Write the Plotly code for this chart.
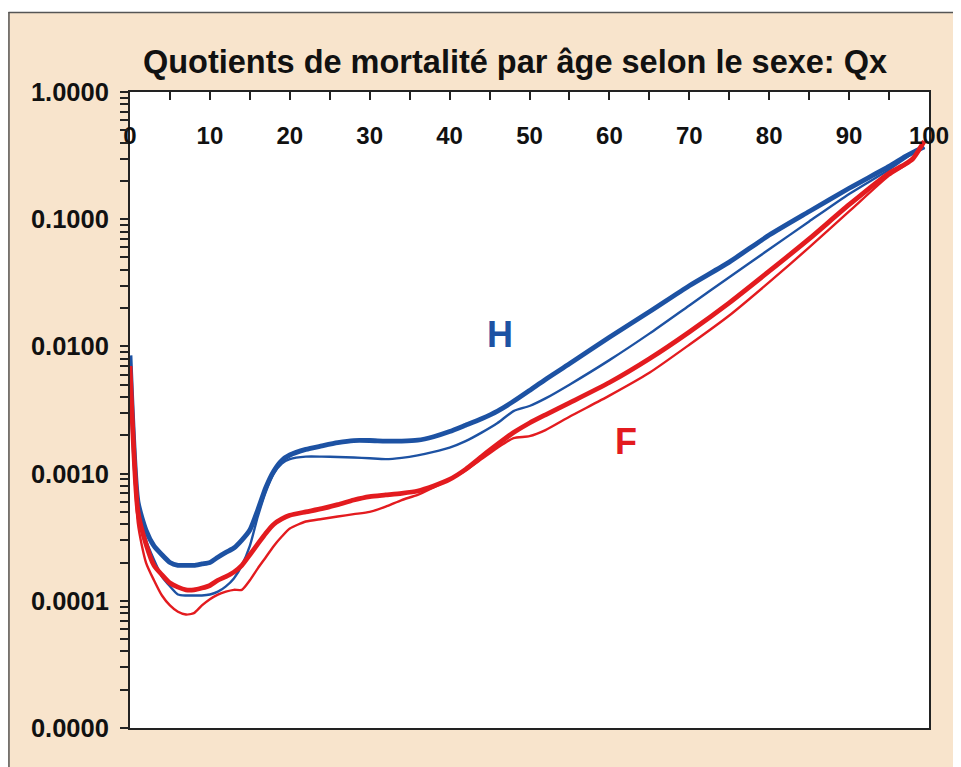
import math
import plotly.graph_objects as go

ages = [0, 1, 2, 3, 4, 5, 6, 7, 8, 9, 10, 11, 12, 13, 14, 15, 16, 17, 18, 19, 20,
        22, 24, 26, 28, 30, 32, 34, 36, 38, 40, 42, 44, 46, 48, 50, 52, 55,
        60, 65, 70, 75, 80, 85, 90, 95, 97, 98, 99.4]

h_thick = [0.0085, 0.00060, 0.00036, 0.00027, 0.00023, 0.00020, 0.00019, 0.00019, 0.00019, 0.000195,
           0.00020, 0.00022, 0.00024, 0.00026, 0.00030, 0.00036, 0.00052, 0.00078, 0.00105, 0.00127,
           0.00140, 0.00155, 0.00165, 0.00175, 0.00182, 0.00182, 0.00180, 0.00180, 0.00183, 0.00195,
           0.00214, 0.0024, 0.0027, 0.0031, 0.0037, 0.0045, 0.0055, 0.0073,
           0.0118, 0.0187, 0.030, 0.046, 0.075, 0.115, 0.175, 0.26, 0.31, 0.335, 0.37]

h_thin = [0.0080, 0.00055, 0.00030, 0.00021, 0.000155, 0.00013, 0.000112, 0.000110, 0.000110, 0.000110,
          0.000112, 0.000118, 0.00013, 0.00015, 0.00019, 0.00027, 0.00046, 0.00072, 0.00100, 0.00120,
          0.00130, 0.00136, 0.00136, 0.00135, 0.00134, 0.00132, 0.00130, 0.00133, 0.00139, 0.00148,
          0.0016, 0.0018, 0.0021, 0.0025, 0.0031, 0.0034, 0.0039, 0.0050,
          0.0078, 0.0126, 0.021, 0.035, 0.058, 0.096, 0.158, 0.245, 0.30, 0.33, 0.37]

f_thick = [0.0070, 0.00050, 0.00028, 0.00019, 0.00016, 0.000138, 0.000128, 0.000122, 0.000122, 0.000126,
           0.000132, 0.000145, 0.000155, 0.000168, 0.00019, 0.00023, 0.00028, 0.00034, 0.00040, 0.00044,
           0.00047, 0.00050, 0.00053, 0.00057, 0.00062, 0.00066, 0.00068, 0.00070, 0.00073, 0.00080,
           0.00090, 0.00108, 0.00136, 0.0017, 0.0021, 0.0025, 0.0029, 0.0036,
           0.0052, 0.0080, 0.0130, 0.022, 0.039, 0.070, 0.130, 0.23, 0.27, 0.30, 0.41]

f_thin = [0.0065, 0.00040, 0.00020, 0.000145, 0.000110, 0.000092, 0.000082, 0.000078, 0.000080, 0.000092,
          0.000103, 0.000112, 0.000118, 0.000122, 0.000122, 0.000145, 0.00018, 0.00022, 0.00027, 0.00032,
          0.00037, 0.00042, 0.00044, 0.00046, 0.00048, 0.00050, 0.00055, 0.00062, 0.00068, 0.00078,
          0.00090, 0.00106, 0.00130, 0.00160, 0.00190, 0.00197, 0.0022, 0.0028,
          0.0041, 0.0062, 0.0103, 0.0175, 0.032, 0.060, 0.115, 0.22, 0.265, 0.30, 0.41]

y_major = [0.00001, 0.0001, 0.001, 0.01, 0.1, 1.0]
y_major_text = ["0.0000", "0.0001", "0.0010", "0.0100", "0.1000", "1.0000"]
x_ticks = [0, 10, 20, 30, 40, 50, 60, 70, 80, 90, 100]

label_h = ("H", 46.3, 0.0124)
label_f = ("F", 62.1, 0.00179)

BLUE = "#1d52a3"
RED = "#e31b1f"
BEIGE = "#f8e4cc"

# y tick values incl. minor (2..9 per decade)
y_tickvals, y_ticktext = [], []
for i, d in enumerate(y_major):
    y_tickvals.append(d)
    y_ticktext.append(y_major_text[i])
    if d < 1.0:
        for k in range(2, 10):
            y_tickvals.append(d * k)
            y_ticktext.append("")

fig = go.Figure()
series = [(h_thick, BLUE, 4.8), (h_thin, BLUE, 2.4), (f_thick, RED, 4.8), (f_thin, RED, 2.4)]
for vals, col, w in series:
    fig.add_trace(go.Scatter(x=ages, y=vals, mode="lines",
                             line=dict(color=col, width=w, shape="spline", smoothing=0.6),
                             showlegend=False, hoverinfo="skip"))

FONT = "Liberation Sans, Arial, sans-serif"

for (txt, ax, ay), col in [(label_h, BLUE), (label_f, RED)]:
    fig.add_annotation(x=ax, y=math.log10(ay), xref="x", yref="y", text=txt, showarrow=False,
                       font=dict(family=FONT, size=36, color=col, weight="bold"))

# page is offset by the 8px body margin
OFF = 8
W, H = 961 - OFF, 767 - OFF
L, T = 130 - OFF, 92 - OFF
PW, PH = 802, 636
R = W - L - PW
B = H - T - PH

def px(xp):  # figure pixel -> paper
    return (xp - L) / PW

def py(yp):
    return (H - B - yp) / PH

# white strip at top and frame line (scan border)
fig.add_shape(type="rect", xref="paper", yref="paper", x0=px(-2), x1=px(W + 2), y0=py(4), y1=py(-2),
              fillcolor="white", line_width=0, layer="above")
fig.add_shape(type="line", xref="paper", yref="paper", x0=px(0), x1=px(W + 2), y0=py(4.5), y1=py(4.5),
              line=dict(color="#555", width=1.5), layer="above")
fig.add_shape(type="line", xref="paper", yref="paper", x0=px(0.5), x1=px(0.5), y0=py(4), y1=py(H + 2),
              line=dict(color="#555", width=1.5), layer="above")

fig.update_layout(
    width=W, height=H,
    margin=dict(l=L, r=R, t=T, b=B),
    paper_bgcolor=BEIGE,
    plot_bgcolor="white",
    font=dict(family=FONT, color="#111"),
    title=dict(text="Quotients de mortalité par âge selon le sexe: Qx",
               x=(515 - OFF) / W, xanchor="center", xref="container",
               y=1 - (62 - OFF) / H, yanchor="middle", yref="container",
               font=dict(family=FONT, size=32.5, color="#111", weight="bold")),
    xaxis=dict(range=[0, 100], side="top", tickvals=x_ticks, ticktext=[str(v) for v in x_ticks],
               ticks="inside", ticklen=8, tickwidth=1.5, tickcolor="#222",
               ticklabelposition="inside", ticklabelstandoff=29, ticklabeloverflow="allow",
               minor=dict(dtick=5, ticks="inside", ticklen=8, tickwidth=1.5, tickcolor="#222", showgrid=False),
               showline=True, linecolor="#222", linewidth=2, mirror=True,
               showgrid=False, zeroline=False,
               tickfont=dict(family=FONT, size=24, color="#111", weight="bold")),
    yaxis=dict(type="log", range=[-5, 0], tickmode="array", tickvals=y_tickvals, ticktext=y_ticktext,
               ticks="outside", ticklen=8, tickwidth=1.5, tickcolor="#222", ticklabelstandoff=6,
               showline=True, linecolor="#222", linewidth=2, mirror=True,
               showgrid=False, zeroline=False,
               tickfont=dict(family=FONT, size=25.5, color="#111", weight="bold")),
)

fig.write_html("out.html")
